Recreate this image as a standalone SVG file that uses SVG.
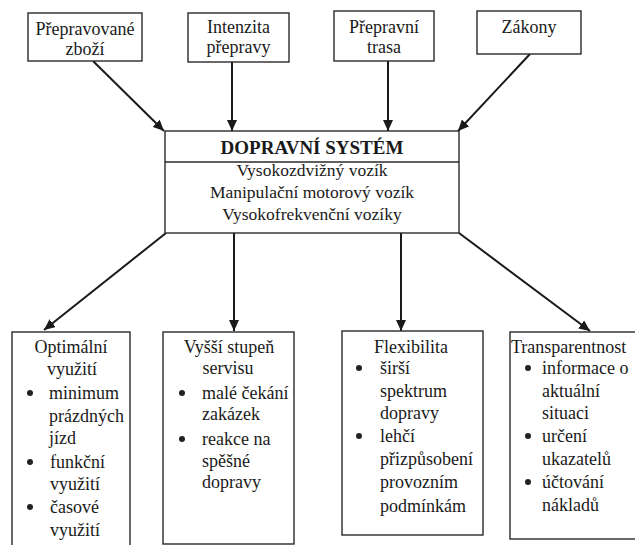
<svg xmlns="http://www.w3.org/2000/svg" width="635" height="545" viewBox="0 0 635 545" font-family="Liberation Serif, Times New Roman, DejaVu Serif, serif">
<style>
.box{fill:#fff;stroke:#2a2a2a;stroke-width:1.4}
.t{font-size:18px;fill:#1a1a1a}
.c{text-anchor:middle}
.m{font-size:17.5px}
.b{font-weight:bold;font-size:19px}
.con{stroke:#1a1a1a;stroke-width:2;fill:none;marker-end:url(#ah)}
.dot{fill:#222}
</style>
<defs>
<marker id="ah" markerUnits="userSpaceOnUse" markerWidth="12" markerHeight="10" refX="11" refY="5" orient="auto">
<path d="M0,0 L11,5 L0,10 Z" fill="#1a1a1a"/>
</marker>
</defs>
<rect width="635" height="545" fill="#fff"/>
<g id="connectors">
<line class="con" x1="93" y1="61" x2="164" y2="131"/>
<line class="con" x1="232" y1="62" x2="232" y2="131"/>
<line class="con" x1="388" y1="61" x2="388" y2="131"/>
<line class="con" x1="530" y1="54" x2="458" y2="131"/>
<line class="con" x1="166" y1="233" x2="44" y2="330"/>
<line class="con" x1="234" y1="233" x2="234" y2="331"/>
<line class="con" x1="401" y1="233" x2="401" y2="331"/>
<line class="con" x1="459" y1="233" x2="590" y2="331"/>
</g>
<g id="n-zbozi" font-family="Liberation Serif">
<rect class="box" x="28" y="13" width="114" height="48"/>
<text class="t c" x="85" y="35">Přepravované</text>
<text class="t c" x="85" y="55">zboží</text>
</g>
<g id="n-intenzita" font-family="Liberation Serif">
<rect class="box" x="188" y="13" width="101" height="49"/>
<text class="t c" x="238.5" y="33">Intenzita</text>
<text class="t c" x="238.5" y="53">přepravy</text>
</g>
<g id="n-trasa" font-family="Liberation Serif">
<rect class="box" x="334" y="11" width="100" height="50"/>
<text class="t c" x="384" y="33">Přepravní</text>
<text class="t c" x="384" y="53">trasa</text>
</g>
<g id="n-zakony" font-family="Liberation Serif">
<rect class="box" x="477" y="11" width="104" height="43"/>
<text class="t c" x="529" y="33">Zákony</text>
</g>
<g id="n-system" font-family="Liberation Serif">
<rect class="box" x="165" y="131" width="294" height="102"/>
<line x1="165" y1="162" x2="459" y2="162" stroke="#2a2a2a" stroke-width="1.4"/>
<text class="t c b" x="312" y="154">DOPRAVNÍ  SYSTÉM</text>
<text class="t c m" x="312" y="176">Vysokozdvižný vozík</text>
<text class="t c m" x="312" y="198">Manipulační motorový vozík</text>
<text class="t c m" x="312" y="220">Vysokofrekvenční vozíky</text>
</g>
<g id="n-optimalni" font-family="Liberation Serif">
<rect class="box" x="12" y="332" width="118" height="225"/>
<text class="t c" x="71" y="353">Optimální</text>
<text class="t c" x="72" y="375">využití</text>
<circle class="dot" cx="30" cy="393" r="3"/>
<text class="t" x="49" y="399">minimum</text>
<text class="t" x="49" y="422">prázdných</text>
<text class="t" x="49" y="444">jízd</text>
<circle class="dot" cx="30" cy="462" r="3"/>
<text class="t" x="50" y="468">funkční</text>
<text class="t" x="50" y="490">využití</text>
<circle class="dot" cx="30" cy="507" r="3"/>
<text class="t" x="50" y="513">časové</text>
<text class="t" x="50" y="536">využití</text>
</g>
<g id="n-servis" font-family="Liberation Serif">
<rect class="box" x="163" y="332" width="131" height="212"/>
<text class="t c" x="229" y="353">Vyšší stupeň</text>
<text class="t c" x="228" y="374">servisu</text>
<circle class="dot" cx="182" cy="393" r="3"/>
<text class="t" x="202" y="399">malé čekání</text>
<text class="t" x="202" y="420">zakázek</text>
<circle class="dot" cx="182" cy="439" r="3"/>
<text class="t" x="202" y="445">reakce na</text>
<text class="t" x="202" y="467">spěšné</text>
<text class="t" x="202" y="488">dopravy</text>
</g>
<g id="n-flexibilita" font-family="Liberation Serif">
<rect class="box" x="342" y="331" width="141" height="204"/>
<text class="t c" x="411" y="353">Flexibilita</text>
<circle class="dot" cx="359" cy="368" r="3"/>
<text class="t" x="380" y="374">širší</text>
<text class="t" x="380" y="397">spektrum</text>
<text class="t" x="380" y="419">dopravy</text>
<circle class="dot" cx="359" cy="436" r="3"/>
<text class="t" x="380" y="442">lehčí</text>
<text class="t" x="380" y="465">přizpůsobení</text>
<text class="t" x="380" y="488">provozním</text>
<text class="t" x="380" y="512">podmínkám</text>
</g>
<g id="n-transparentnost" font-family="Liberation Serif">
<rect class="box" x="510" y="332" width="140" height="207"/>
<text class="t" x="511" y="353">Transparentnost</text>
<circle class="dot" cx="528" cy="368" r="3"/>
<text class="t" x="542" y="374">informace o</text>
<text class="t" x="542" y="397">aktuální</text>
<text class="t" x="542" y="419">situaci</text>
<circle class="dot" cx="528" cy="436" r="3"/>
<text class="t" x="542" y="442">určení</text>
<text class="t" x="542" y="465">ukazatelů</text>
<circle class="dot" cx="528" cy="482" r="3"/>
<text class="t" x="542" y="488">účtování</text>
<text class="t" x="542" y="511">nákladů</text>
</g>
</svg>
